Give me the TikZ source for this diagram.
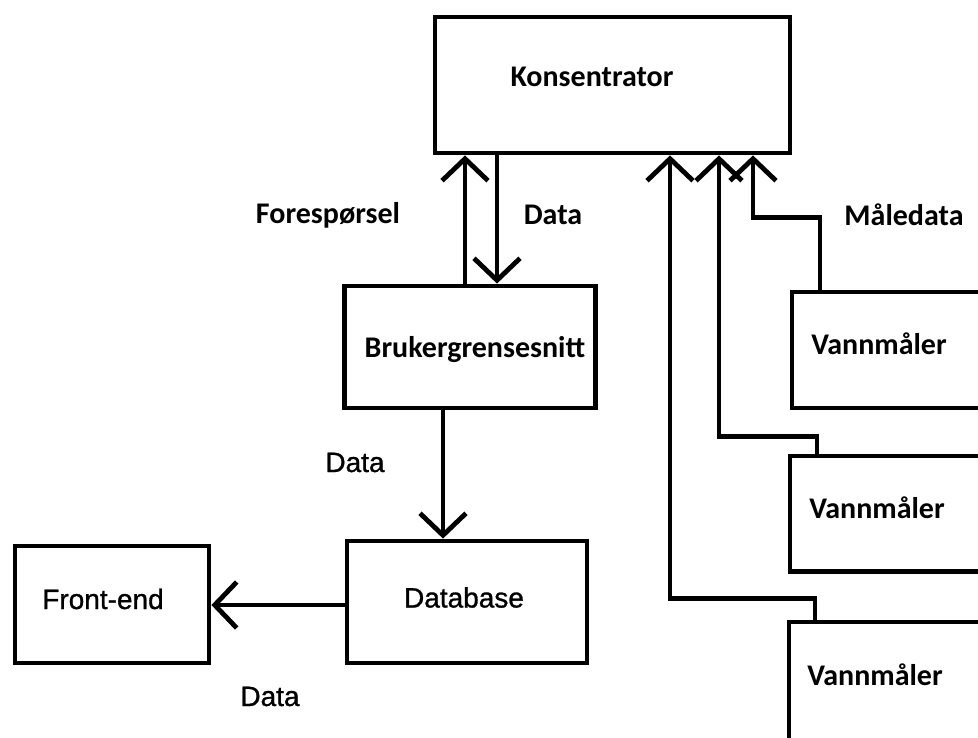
\documentclass[tikz,border=0pt]{standalone}
\usepackage{fontspec}
\usetikzlibrary{arrows.meta}
\newfontfamily\calfont{Carlito}
\newfontfamily\arialfont[FakeBold=1]{Liberation Sans}
\begin{document}
\begin{tikzpicture}[x=1pt,y=-1pt,
  blk/.style={draw, line width=4.8pt, inner sep=0pt, fill=white},
  arr/.style={line width=4.8pt, -{Straight Barb[length=22pt,width=46pt]}},
  ctext/.style={anchor=base, inner sep=0pt, font=\calfont\bfseries\fontsize{30pt}{34pt}\selectfont},
  atext/.style={anchor=base, inner sep=0pt, font=\arialfont\fontsize{28pt}{32pt}\selectfont}]
\useasboundingbox (0,0) rectangle (978,738);
\clip (0,0) rectangle (978,738);
\fill[white] (0,0) rectangle (978,738);

% boxes
\node[blk, minimum width=355pt, minimum height=136pt] (kons) at (612.5,85) {};
\node[blk, minimum width=251pt, minimum height=122pt] (bruker) at (470,347) {};
\node[blk, minimum width=240pt, minimum height=122pt] (db) at (467,602) {};
\node[blk, minimum width=194pt, minimum height=117pt] (front) at (112,604.5) {};
\node[blk, minimum width=208pt, minimum height=116pt] (vm1) at (896,350) {};
\node[blk, minimum width=210pt, minimum height=115.5pt] (vm2) at (895,513.75) {};
\node[blk, minimum width=211pt, minimum height=138pt] (vm3) at (894.5,691) {};

% box texts
\node[ctext] (tkons) at (592,87) {Konsentrator};
\node[ctext] (tbruker) at (475,357) {Brukergrensesnitt};
\node[ctext] (tvm1) at (879,355) {Vannmåler};
\node[ctext] (tvm2) at (877,518) {Vannmåler};
\node[ctext] (tvm3) at (875,685) {Vannmåler};
\node[atext] (tdb) at (464,607.5) {Database};
\node[atext] (tfront) at (103,609) {Front-end};

% connector labels
\node[ctext] (lfor) at (328,224) {Forespørsel};
\node[ctext] (ldata1) at (553,225) {Data};
\node[ctext] (lmaale) at (904,226) {Måledata};
\node[atext] (ldata2) at (355,472) {Data};
\node[atext] (ldata3) at (270,706) {Data};

% request and reply between the interface and the concentrator
\draw[arr] ([xshift=-5pt]bruker.north) -- ([xshift=-5pt]bruker.north |- kons.south);
\draw[arr] ([xshift=27pt]bruker.north |- kons.south) -- ([xshift=27pt]bruker.north);

% interface -> database -> front-end
\draw[arr] ([xshift=-27pt]bruker.south) -- ([xshift=-27pt]bruker.south |- db.north);
\draw[arr] ([yshift=-3pt]db.west) -- ([yshift=-3pt]db.west -| front.east);

% water meters -> concentrator
\draw[arr] ([xshift=-76pt]vm1.north) -- ++(0,-72) -| ([xshift=140.5pt]kons.south);
\draw[arr] ([xshift=-78pt]vm2.north) -- ++(0,-17) -| ([xshift=106.5pt]kons.south);
\draw[arr] ([xshift=-79.5pt]vm3.north) -- ++(0,-21.5) -| ([xshift=57.5pt]kons.south);
\end{tikzpicture}
\end{document}
